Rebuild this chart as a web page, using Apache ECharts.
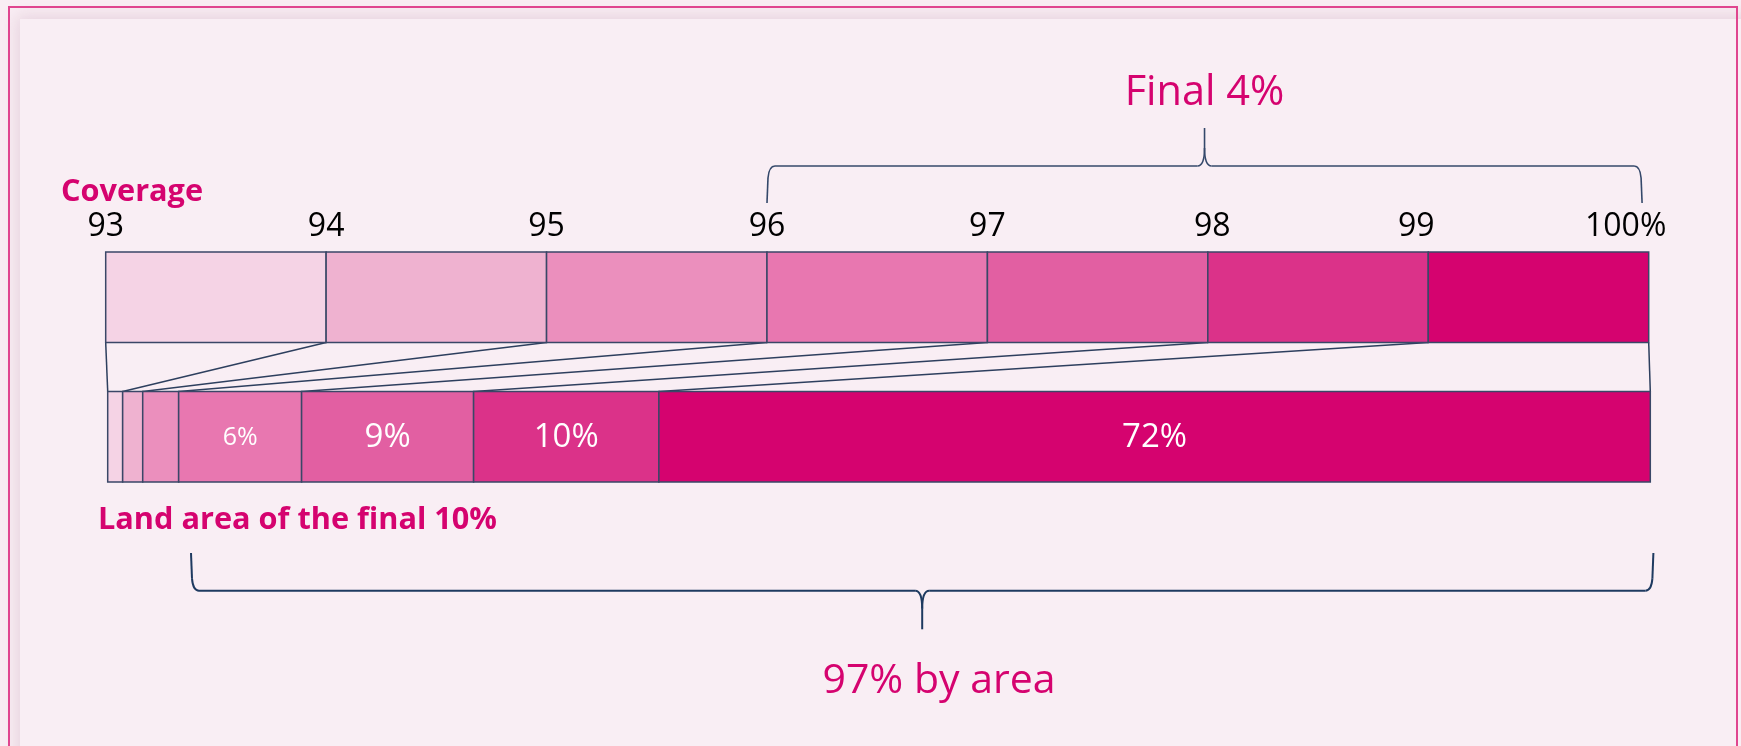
<!DOCTYPE html>
<html>
<head>
<meta charset="utf-8">
<script src="https://cdn.jsdelivr.net/npm/echarts@6/dist/echarts.min.js"></script>
<style>
  html, body { margin: 0; padding: 0; background: #F9EEF4; }
  #chart { width: 1741px; height: 746px; }
</style>
</head>
<body>
<div id="chart"></div>
<script>
// ---- data ----
const coverageTicks = [93, 94, 95, 96, 97, 98, 99, 100];
const tickLabels = ['93', '94', '95', '96', '97', '98', '99', '100%'];
// widths of the lower bar's pieces as drawn (share of the bar, %)
const areaShares = [0.97, 1.30, 2.33, 7.97, 11.15, 12.01, 64.27];
const areaLabels = ['', '', '', '6%', '9%', '10%', '72%'];
const topBraceRange = [96, 99.97];      // coverage axis units
const bottomBraceRange = [5.4, 100.2];  // lower-bar units
const titleCoverage = 'Coverage';
const titleLand = 'Land area of the final 10%';
const topBraceText = 'Final 4%';
const bottomBraceText = '97% by area';

// ---- styles ----
const segColors = ['#F5D3E5', '#EFB2D0', '#EB8FBD', '#E877B0', '#E25FA2', '#DB3289', '#D5036F'];
const outline = '#3A4767';
const navy = '#2D3F5E';
const magenta = '#D5036F';
const FONT = '"Open Sans", "Noto Sans", sans-serif';

const topData = [];
for (let i = 0; i < coverageTicks.length - 1; i++) topData.push([coverageTicks[i], coverageTicks[i + 1], i]);
const cum = [0];
areaShares.forEach(v => cum.push(cum[cum.length - 1] + v));
const bottomData = areaShares.map((v, i) => [cum[i], cum[i + 1], i]);

const chart = echarts.init(document.getElementById('chart'), null, { renderer: 'canvas' });

function rectItem(api) {
  const p0 = api.coord([api.value(0), 1]);
  const p1 = api.coord([api.value(1), 0]);
  return { x: p0[0], y: p0[1], width: p1[0] - p0[0], height: p1[1] - p0[1] };
}

const labelRich = {
  n: { fontFamily: FONT, fontSize: 32, color: '#000' },
  c: { fontFamily: FONT, fontSize: 32, color: '#000', padding: [0, 0, 0, 9] },
  d: { fontFamily: FONT, fontSize: 32, color: '#000', padding: [0, 24, 0, 0] },
  e: { fontFamily: FONT, fontSize: 32, color: '#000', padding: [0, 46, 0, 0] }
};
const richKey = { 98: 'c', 99: 'd', 100: 'e' };

chart.setOption({
  backgroundColor: '#F9EEF4',
  animation: false,
  grid: [
    { left: 105.7, top: 252, width: 1543, height: 90.5 },
    { left: 107.7, top: 391.5, width: 1542.6, height: 90.5 }
  ],
  xAxis: [
    {
      gridIndex: 0, type: 'value', position: 'top', min: 93, max: 100, interval: 1,
      axisLine: { show: false }, axisTick: { show: false }, splitLine: { show: false },
      axisLabel: {
        show: true, margin: 9, showMinLabel: true, showMaxLabel: true,
        fontFamily: FONT, fontSize: 32, color: '#000',
        formatter: v => {
          const idx = coverageTicks.indexOf(v);
          const t = idx >= 0 ? tickLabels[idx] : String(v);
          return '{' + (richKey[v] || 'n') + '|' + t + '}';
        },
        rich: labelRich
      }
    },
    {
      gridIndex: 1, type: 'value', min: 0, max: 100, show: false,
      axisLine: { show: false }, axisTick: { show: false }, splitLine: { show: false }, axisLabel: { show: false }
    }
  ],
  yAxis: [
    { gridIndex: 0, type: 'value', min: 0, max: 1, show: false, splitLine: { show: false } },
    { gridIndex: 1, type: 'value', min: 0, max: 1, show: false, splitLine: { show: false } }
  ],
  series: [
    {
      type: 'custom', xAxisIndex: 0, yAxisIndex: 0, data: topData, z: 5,
      renderItem: (params, api) => ({
        type: 'rect', shape: rectItem(api),
        style: { fill: segColors[api.value(2)], stroke: outline, lineWidth: 1.5 }
      })
    },
    {
      type: 'custom', xAxisIndex: 1, yAxisIndex: 1, data: bottomData, z: 5,
      renderItem: (params, api) => {
        const s = rectItem(api);
        const i = api.value(2);
        const label = areaLabels[i];
        const size = (api.value(1) - api.value(0)) < 10 ? 25 : 33;
        const children = [{
          type: 'rect', shape: s,
          style: { fill: segColors[i], stroke: outline, lineWidth: 1.5 }
        }];
        if (label) {
          children.push({
            type: 'text', z2: 10,
            style: {
              text: label, x: s.x + s.width / 2, y: s.y + s.height / 2 + 1,
              align: 'center', verticalAlign: 'middle', textAlign: 'center', textVerticalAlign: 'middle',
              fill: '#FFFFFF', font: size + 'px ' + FONT
            }
          });
        }
        return { type: 'group', children };
      }
    }
  ]
});

// ---- annotations positioned through the axes ----
const px = (g, x, y) => chart.convertToPixel({ gridIndex: g }, [x, y]);

function braceParts(x0, x1, yEnd, yLine, yTip, color, width) {
  const d = Math.sign(yEnd - yLine);
  const s = Math.sign(yTip - yLine);
  const xm = (x0 + x1) / 2;
  const st = { stroke: color, lineWidth: width, fill: 'none' };
  const L = (a, b, c, e) => ({ type: 'line', z: 4, silent: true, shape: { x1: a, y1: b, x2: c, y2: e }, style: st });
  const Q = (a, b, cx, cy, c, e) => ({ type: 'bezierCurve', z: 4, silent: true,
    shape: { x1: a, y1: b, cpx1: cx, cpy1: cy, x2: c, y2: e }, style: st });
  return [
    L(x0, yEnd, x0 + 1, yLine + d * 12),
    Q(x0 + 1, yLine + d * 12, x0 + 2, yLine, x0 + 8, yLine),
    L(x0 + 8, yLine, xm - 7, yLine),
    Q(xm - 7, yLine, xm, yLine, xm, yLine + s * 18),
    L(xm, yLine + s * 18, xm, yTip),
    Q(xm, yLine + s * 18, xm, yLine, xm + 7, yLine),
    L(xm + 7, yLine, x1 - 8, yLine),
    Q(x1 - 8, yLine, x1 - 2, yLine, x1 - 1, yLine + d * 12),
    L(x1 - 1, yLine + d * 12, x1, yEnd)
  ];
}

let graphics = [];
// background panel with soft inner shadow and border
graphics.push({
  type: 'rect', z: -100, silent: true,
  shape: { x: 20, y: 19, width: 1760, height: 800 },
  style: { fill: '#F9EEF4', shadowBlur: 16, shadowColor: 'rgba(170,110,140,0.22)', shadowOffsetX: -3, shadowOffsetY: -3 }
});
graphics.push({
  type: 'rect', z: 100, silent: true,
  shape: { x: 9, y: 7, width: 1728, height: 800 },
  style: { fill: 'none', stroke: '#E0458F', lineWidth: 2 }
});

// connectors between the two bars
for (let i = 0; i < coverageTicks.length; i++) {
  const a = px(0, coverageTicks[i], 0);
  const b = px(1, cum[i], 1);
  graphics.push({
    type: 'line', z: 4, silent: true,
    shape: { x1: a[0], y1: a[1], x2: b[0], y2: b[1] },
    style: { stroke: navy, lineWidth: 1.5 }
  });
}

// top brace
const tb0 = px(0, topBraceRange[0], 1), tb1 = px(0, topBraceRange[1], 1);
const topY = tb0[1];
graphics = graphics.concat(braceParts(tb0[0], tb1[0], topY - 49, topY - 86, topY - 124, '#34486A', 1.6));
// bottom brace
const bb0 = px(1, bottomBraceRange[0], 0), bb1 = px(1, bottomBraceRange[1], 0);
const botY = bb0[1];
graphics = graphics.concat(braceParts(bb0[0], bb1[0], botY + 71, botY + 108.7, botY + 147.3, '#1E3A60', 2));

// texts
const txt = (text, x, y, align, font) => ({
  type: 'text', z: 10, silent: true,
  style: { text, x, y, align, verticalAlign: 'middle', textAlign: align, textVerticalAlign: 'middle', fill: magenta, font }
});
graphics.push(txt(topBraceText, (tb0[0] + tb1[0]) / 2, topY - 159, 'center', '41.5px ' + FONT));
graphics.push(txt(bottomBraceText, 939, 681, 'center', '41px ' + FONT));
graphics.push(txt(titleCoverage, 61, 192, 'left', 'bold 30.7px ' + FONT));
graphics.push(txt(titleLand, 98, 520, 'left', 'bold 30.7px ' + FONT));

chart.setOption({ graphic: { elements: graphics } });
</script>
</body>
</html>
